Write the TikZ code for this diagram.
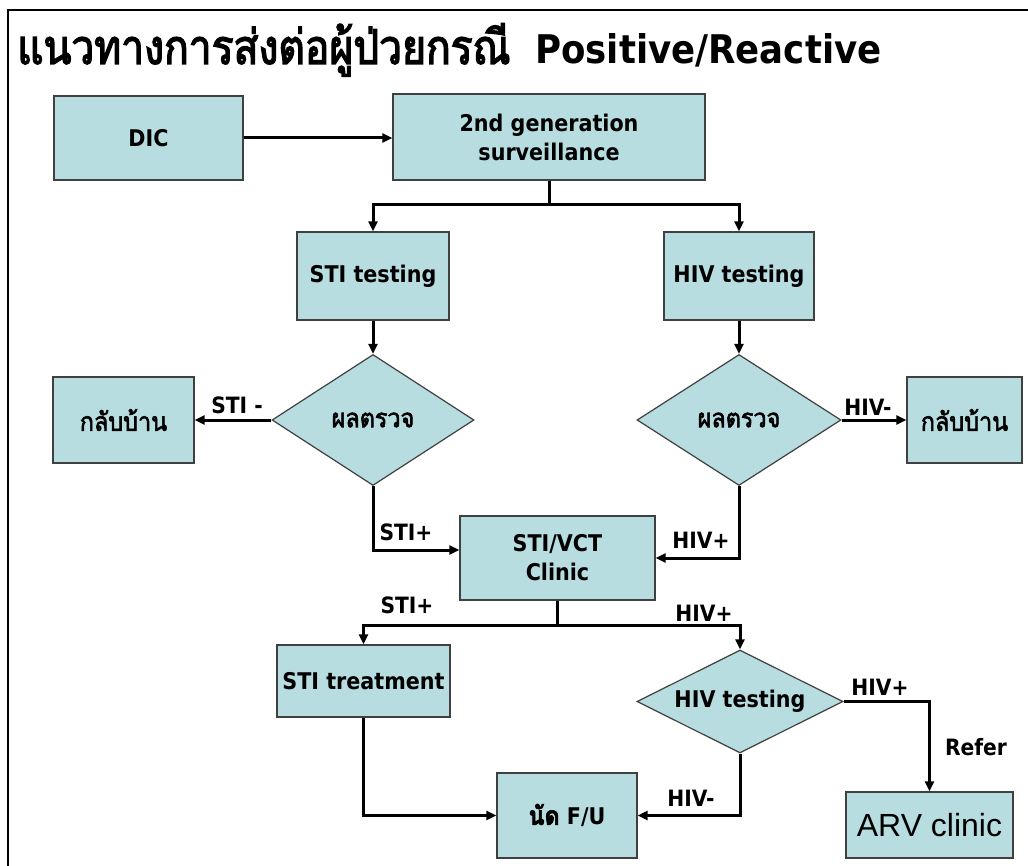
\documentclass[tikz,border=0pt]{standalone}
\usepackage{fontspec}
\setmainfont{DejaVu Sans}[FakeStretch=0.9]
\newfontfamily\thai[Script=Thai,FakeBold=2.2,FakeStretch=0.9]{Loma}
\newfontfamily\thaititle[Script=Thai,FakeBold=2.8,FakeStretch=0.85]{Loma}
\newfontfamily\arial{Liberation Sans}
\usetikzlibrary{arrows.meta,shapes.geometric}
\definecolor{boxfill}{RGB}{183,221,225}
\definecolor{boxline}{RGB}{64,64,64}
\begin{document}
\begin{tikzpicture}[x=1pt,y=-1pt,
  box/.style={draw=boxline, line width=1.2pt, fill=boxfill, inner sep=0pt, align=center,
    font=\fontsize{23}{29}\selectfont\bfseries},
  dia/.style={draw=boxline, line width=1.2pt, fill=boxfill, diamond, shape aspect=2, inner sep=0pt,
    align=center, font=\fontsize{23}{29}\selectfont\bfseries},
  conn/.style={line width=3pt, -{Triangle[length=10pt,width=9pt]}},
  lbl/.style={font=\fontsize{22.5}{26}\selectfont\bfseries, inner sep=0pt},
  thaitxt/.style={font=\fontsize{26}{30}\selectfont\thai}
]
\useasboundingbox (0,0) rectangle (1028,866);
\fill[white] (0,0) rectangle (1028,866);
\draw[line width=2pt] (8,866) -- (8,10) -- (1028,10);

% title
\node[anchor=base west, inner sep=0pt, font=\fontsize{48}{52}\selectfont\thaititle] (tth) at (17,64) {แนวทางการส่งต่อผู้ป่วยกรณี};
\node[anchor=base west, inner sep=0pt, font=\fontsize{39.5}{44}\selectfont\bfseries] (tlat) at (535,64) {Positive/Reactive};

% boxes
\node[box, minimum width=189, minimum height=84] (dic) at (148.5,138) {DIC};
\node[box, minimum width=312, minimum height=86] (gen) at (549,137) {2nd generation\\surveillance};
\node[box, minimum width=152, minimum height=88] (stit) at (373,276) {STI testing};
\node[box, minimum width=150, minimum height=88] (hivt) at (739,276) {HIV testing};
\node[dia, minimum width=202, minimum height=131, thaitxt] (stid) at (373,420) {ผลตรวจ};
\node[dia, minimum width=204, minimum height=131, thaitxt] (hivd) at (739,420) {ผลตรวจ};
\node[box, minimum width=141, minimum height=86, thaitxt] (home1) at (123.5,420) {กลับบ้าน};
\node[box, minimum width=115, minimum height=86, thaitxt] (home2) at (964.5,420) {กลับบ้าน};
\node[box, minimum width=195, minimum height=84] (vct) at (557.5,558) {STI/VCT\\Clinic};
\node[box, minimum width=173, minimum height=72] (stitr) at (363.5,681) {STI treatment};
\node[dia, minimum width=206, minimum height=103] (hivd2) at (740,701.5) {HIV testing};
\node[box, minimum width=140, minimum height=85] (fu) at (567,815.5) {{\fontsize{26}{30}\selectfont\thai นัด} F/U};
\node[box, minimum width=167, minimum height=66, font=\fontsize{32}{36}\selectfont\arial] (arv) at (929.5,825) {ARV clinic};

\coordinate (s1) at (549,205);
\coordinate (s2) at (557.5,625);

% connectors
\draw[conn] (dic.east) -- (dic.east -| gen.west);
\draw[conn] (gen.south) -- (s1) -| (stit.north);
\draw[conn] (gen.south) -- (s1) -| (hivt.north);
\draw[conn] (stit.south) -- (stid.north);
\draw[conn] (hivt.south) -- (hivd.north);
\draw[conn] (stid.west) -- (home1.east);
\draw[conn] (hivd.east) -- (home2.west);
\draw[conn] (stid.south) |- ([yshift=8pt]vct.west);
\draw[conn] (hivd.south) |- (vct.east);
\draw[conn] (vct.south) -- (s2) -| (stitr.north);
\draw[conn] (vct.south) -- (s2) -| (hivd2.north);
\draw[conn] (stitr.south) |- (fu.west);
\draw[conn] (hivd2.south) |- (fu.east);
\draw[conn] (hivd2.east) -| (arv.north);

% labels
\node[lbl] (l1) at (237,405) {STI -};
\node[lbl] (l2) at (868,407) {HIV-};
\node[lbl] (l3) at (406,532) {STI+};
\node[lbl] (l4) at (701,540) {HIV+};
\node[lbl] (l5) at (407,605) {STI+};
\node[lbl] (l6) at (704,613) {HIV+};
\node[lbl] (l7) at (880,687) {HIV+};
\node[lbl] (l8) at (976,747) {Refer};
\node[lbl] (l9) at (691,798) {HIV-};
\end{tikzpicture}
\end{document}
